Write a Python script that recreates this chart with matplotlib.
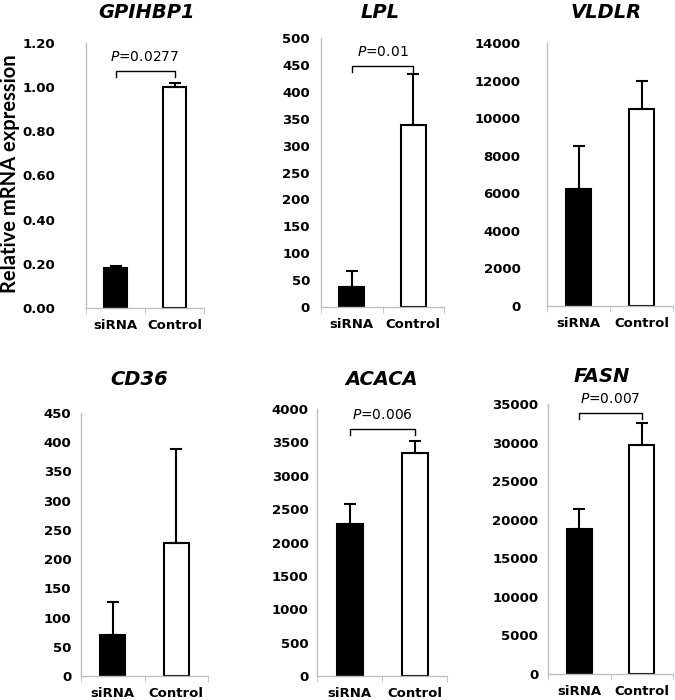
import matplotlib
matplotlib.use('Agg')
from matplotlib import pyplot as plt
from matplotlib.ticker import FixedLocator

genes = ['GPIHBP1', 'LPL', 'VLDLR', 'CD36', 'ACACA', 'FASN']
groups = ['siRNA', 'Control']
sirna_mean = [0.18, 38, 6250, 71, 2270, 18750]
sirna_err = [0.01, 28, 2250, 56, 310, 2600]
control_mean = [1.00, 338, 10500, 228, 3345, 29700]
control_err = [0.02, 95, 1500, 161, 170, 2880]
y_max = [1.2, 500, 14000, 450, 4000, 35000]
y_step = [0.2, 50, 2000, 50, 500, 5000]
p_values = ['0.0277', '0.01', None, None, '0.006', '0.007']
bracket_level = [1.074, 448, None, None, 3705, 33830]

# axes boxes in pixels: left, top, right, bottom
boxes = [(86, 43, 204, 308), (321, 38, 444, 307), (547, 43, 673, 306),
         (81, 413, 208, 676), (317, 409, 447, 676), (548, 404, 673, 674)]
title_xy = [(147, 13), (380, 13), (606, 13), (139, 380), (382, 380), (602, 377)]
label_pad = [22, 8, 19, 7, 6, 7]

W, H = 675, 700
fig = plt.figure(figsize=(W / 100, H / 100), dpi=100)
axis_grey = '#bfbfbf'

for i, gene in enumerate(genes):
    l, t, r, b = boxes[i]
    ax = fig.add_axes([l / W, 1 - b / H, (r - l) / W, (b - t) / H])
    x = [0, 1]
    ax.bar(x, [sirna_mean[i], control_mean[i]], width=0.4,
           color=['black', 'white'], edgecolor='black', linewidth=1.5, zorder=2)
    ax.errorbar(x, [sirna_mean[i], control_mean[i]],
                yerr=[[0, 0], [sirna_err[i], control_err[i]]],
                fmt='none', ecolor='black', elinewidth=1.5, capsize=4.5,
                capthick=1.5, zorder=3)
    ax.set_xlim(-0.5, 1.5)
    ax.set_ylim(0, y_max[i])
    n = int(round(y_max[i] / y_step[i]))
    ticks = [k * y_step[i] for k in range(n + 1)]
    ax.set_yticks(ticks)
    if y_max[i] < 10:
        ax.set_yticklabels(['%.2f' % v for v in ticks])
    else:
        ax.set_yticklabels(['%d' % v for v in ticks])
    ax.set_xticks(x)
    ax.set_xticklabels(groups)
    ax.xaxis.set_minor_locator(FixedLocator([-0.5, 0.5, 1.5]))
    ax.tick_params(axis='y', length=0, pad=label_pad[i], labelsize=9.5)
    ax.tick_params(axis='x', which='major', length=0, pad=8, labelsize=9.5)
    ax.tick_params(axis='x', which='minor', length=4, color=axis_grey, direction='out')
    for lab in ax.get_yticklabels() + ax.get_xticklabels():
        lab.set_fontweight('bold')
    for s in ['top', 'right']:
        ax.spines[s].set_visible(False)
    for s in ['left', 'bottom']:
        ax.spines[s].set_color(axis_grey)
        ax.spines[s].set_linewidth(1)
    ax.patch.set_alpha(0)

    if p_values[i]:
        yb = bracket_level[i]
        drop = y_max[i] * 0.022
        ax.plot([0, 0, 1, 1], [yb - drop, yb, yb, yb - drop], color='black',
                linewidth=1, clip_on=False, zorder=4)
        ax.text(0.5, yb + y_max[i] * 0.025, r'$\mathit{P}$=' + p_values[i],
                ha='center', va='bottom', fontsize=10, clip_on=False)

    tx, ty = title_xy[i]
    fig.text(tx / W, 1 - ty / H, gene, ha='center', va='center',
             fontsize=14, fontweight='bold', fontstyle='italic')

fig.text(10 / W, 1 - 174 / H, 'Relative mRNA expression', rotation=90,
         ha='center', va='center', fontsize=14.5, fontweight='bold', family='Lato')

plt.savefig('out.png', dpi=100)
